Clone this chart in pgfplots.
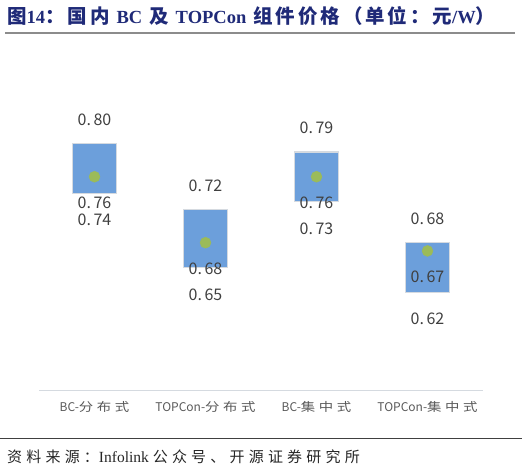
\documentclass[border=0pt]{standalone}
\usepackage{pgfplots}
\pgfplotsset{compat=1.18}
\usepgfplotslibrary{statistics}
\usepackage{pgfplotstable}
\usepackage{fontspec}
\setmainfont{Liberation Serif}
\newfontfamily\cjk{Noto Sans CJK SC}
\newfontfamily\cjkt{Noto Sans CJK SC}[LetterSpace=15]
\newfontfamily\cjkf{Noto Sans CJK SC}[LetterSpace=28]
\newfontfamily\cjkc{Noto Sans CJK SC}[FakeStretch=1.2, LetterSpace=30]

\definecolor{titleblue}{HTML}{1F2A78}
\definecolor{boxblue}{HTML}{6C9FDB}
\definecolor{boxedge}{HTML}{D5DAE0}
\definecolor{dotgreen}{HTML}{9BBB59}
\definecolor{labgray}{HTML}{404040}
\definecolor{catgray}{HTML}{595959}

\newcommand\tc[1]{{\cjkt\fontsize{19.5}{21}\selectfont #1}}
\newcommand\fc[1]{{\cjkf\fontsize{15}{17}\selectfont #1}}
\newcommand\cc[1]{{\cjkc #1}}
\newcommand\gap{\hspace{7pt}}

% price range per category: high, middle, low (yuan/W)
\pgfplotstableread{
x hi mid lo
0 0.80 0.76 0.74
1 0.72 0.68 0.65
2 0.79 0.76 0.73
3 0.68 0.67 0.62
}\prices

\pgfplotsset{
  pricebox/.style={fill=boxblue, draw=boxedge, line width=1.2pt},
  pricelabel/.style={draw=none, mark=none, point meta=y,
    nodes near coords={\pgfmathprintnumber[fixed, fixed zerofill, precision=2,
      assume math mode=true, set decimal separator={.\,}]{\pgfplotspointmeta}},
    every node near coord/.append style={yshift=#1}},
}

\begin{document}
\begin{tikzpicture}
\path[use as bounding box] (0,0) rectangle (522pt,470pt);

% title
\node[anchor=west, text=titleblue, font=\fontsize{18.5}{21}\selectfont\bfseries, inner sep=0pt]
  at (7pt,453.5pt) {\tc{图}14\tc{：国内}\gap BC\gap\tc{及}\gap TOPCon\gap\tc{组件价格（单位：元}/W\tc{）}};
\draw[gray!90, line width=1.6pt] (5pt,437pt) -- (515pt,437pt);

\begin{axis}[
    at={(39pt,79pt)}, anchor=south west,
    scale only axis,
    width=444pt, height=329.6pt,
    xmin=-0.5, xmax=3.5,
    ymin=0.5, ymax=0.9,
    axis y line=none,
    axis x line*=bottom,
    x axis line style={draw=boxedge, line width=1pt, -},
    xtick={0,1,2,3},
    xticklabels={BC-\cc{分布式}, TOPCon-\cc{分布式}, BC-\cc{集中式}, TOPCon-\cc{集中式}},
    major tick length=0pt,
    xticklabel style={font=\cjk\fontsize{12}{14}\selectfont, text=catgray, yshift=-6.5pt},
    clip=false,
    boxplot/draw direction=y,
    boxplot/box extend=0.396,
    boxplot/draw/median/.code={},
    boxplot/draw/lower whisker/.code={},
    boxplot/draw/upper whisker/.code={},
    every node near coord/.append style={font=\cjk\fontsize{16}{18}\selectfont, text=labgray, anchor=center},
]

% boxes from low to high
\addplot[pricebox, boxplot prepared={draw position=0,
  lower whisker=0.74, lower quartile=0.74, median=0.76, upper quartile=0.80, upper whisker=0.80}] coordinates {};
\addplot[pricebox, boxplot prepared={draw position=1,
  lower whisker=0.65, lower quartile=0.65, median=0.68, upper quartile=0.72, upper whisker=0.72}] coordinates {};
\addplot[pricebox, boxplot prepared={draw position=2,
  lower whisker=0.73, lower quartile=0.73, median=0.76, upper quartile=0.79, upper whisker=0.79}] coordinates {};
\addplot[pricebox, boxplot prepared={draw position=3,
  lower whisker=0.62, lower quartile=0.62, median=0.67, upper quartile=0.68, upper whisker=0.68}] coordinates {};

% middle price
\addplot[only marks, mark=*, mark size=5.5pt, color=dotgreen] table[x=x, y=mid] {\prices};

% value labels
\addplot[pricelabel=24pt] table[x=x, y=hi] {\prices};
\addplot[pricelabel=-26pt] table[x=x, y=mid] {\prices};
\addplot[pricelabel=-27pt] table[x=x, y=lo] {\prices};
\end{axis}

% source
\draw[labgray, line width=1pt] (0pt,31pt) -- (522pt,31pt);
\node[anchor=west, inner sep=0pt, font=\fontsize{15.5}{17}\selectfont, text=black!85]
  at (7pt,13pt) {\fc{资料来源：}Infolink \fc{公众号、开源证券研究所}};
\end{tikzpicture}
\end{document}
